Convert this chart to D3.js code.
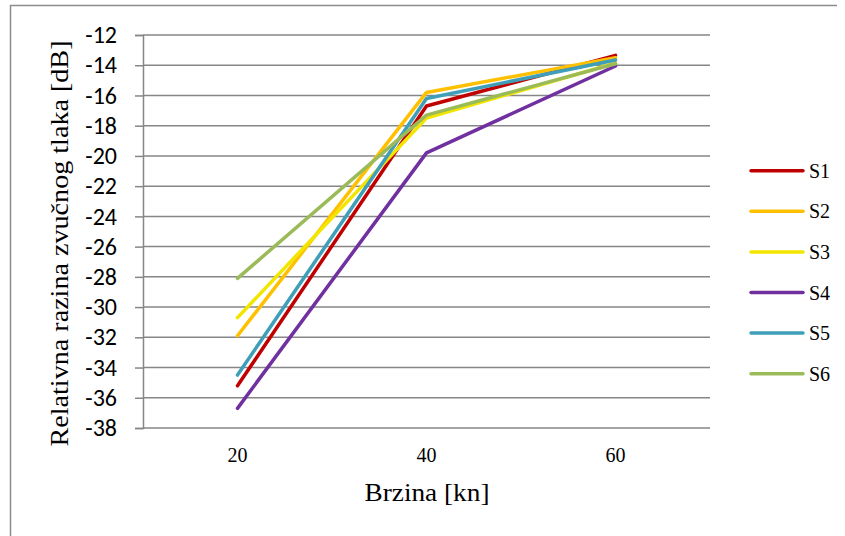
<!DOCTYPE html>
<html><head><meta charset="utf-8">
<script src="https://cdn.jsdelivr.net/npm/d3@7"></script>
<style>body{margin:0;background:#fff}svg{display:block}</style>
</head><body>
<svg id="c" width="845" height="536"></svg>
<script>
const categories = [20, 40, 60];
const seriesNames = ["S1", "S2", "S3", "S4", "S5", "S6"];
const seriesColors = ["#C00000", "#FFC000", "#F2E600", "#7030A0", "#3F9FB8", "#9BBB59"];
const S1 = [-35.2, -16.7, -13.35];
const S2 = [-31.9, -15.8, -13.5];
const S3 = [-30.7, -17.5, -13.85];
const S4 = [-36.7, -19.8, -14.05];
const S5 = [-34.5, -16.2, -13.65];
const S6 = [-28.1, -17.3, -13.9];
const seriesValues = [S1, S2, S3, S4, S5, S6];
const yTicks = [-12,-14,-16,-18,-20,-22,-24,-26,-28,-30,-32,-34,-36,-38];

const svg = d3.select("#c");
// outer frame (top and left visible)
svg.append("line").attr("x1",10).attr("x2",837).attr("y1",5.5).attr("y2",5.5).attr("stroke","#8c8c8c").attr("stroke-width",1.5);
svg.append("line").attr("x1",10.5).attr("x2",10.5).attr("y1",5).attr("y2",540).attr("stroke","#8c8c8c").attr("stroke-width",1.5);

const L = 143, R = 710, T = 35, B = 428;
const x = d3.scaleBand().domain(categories).range([L, R]);
const y = d3.scaleLinear().domain([-38, -12]).range([B, T]);

// gridlines
svg.append("g").selectAll("line").data(yTicks).join("line")
  .attr("x1", L).attr("x2", R).attr("y1", d => y(d)).attr("y2", d => y(d))
  .attr("stroke", "#868686").attr("stroke-width", 1.5);

// y axis
const ya = svg.append("g").attr("transform", `translate(${L},0)`)
  .call(d3.axisLeft(y).tickValues(yTicks).tickSize(8).tickPadding(18).tickFormat(d => d));
ya.select(".domain").attr("stroke", "#868686").attr("stroke-width", 1.5);
ya.selectAll(".tick line").attr("stroke", "#868686").attr("stroke-width", 1.5);
ya.selectAll(".tick text").attr("font-family", "Carlito, 'Liberation Sans', Arial, sans-serif")
  .attr("font-size", 24).attr("fill", "#000");

// x axis labels
const xa = svg.append("g").attr("transform", `translate(0,${B})`)
  .call(d3.axisBottom(x).tickSize(0).tickPadding(20));
xa.select(".domain").remove();
xa.selectAll(".tick text").attr("font-family", "'Liberation Serif', 'DejaVu Serif', serif")
  .attr("font-size", 20).attr("fill", "#000");

// lines
const line = d3.line().x((d, i) => x(categories[i]) + x.bandwidth() / 2).y(d => y(d));
svg.append("g").selectAll("path").data(seriesValues).join("path")
  .attr("d", line).attr("fill", "none")
  .attr("stroke", (d, i) => seriesColors[i]).attr("stroke-width", 3.5)
  .attr("stroke-linecap", "round").attr("stroke-linejoin", "round");

// axis titles
svg.append("text").attr("x", 427).attr("y", 501).attr("text-anchor", "middle")
  .attr("font-family", "'Liberation Serif', 'DejaVu Serif', serif").attr("font-size", 25)
  .attr("textLength", 125).attr("lengthAdjust", "spacingAndGlyphs")
  .text("Brzina [kn]");
svg.append("text").attr("transform", "translate(68,243.5) rotate(-90)").attr("text-anchor", "middle")
  .attr("font-family", "'Liberation Serif', 'DejaVu Serif', serif").attr("font-size", 25)
  .attr("textLength", 406).attr("lengthAdjust", "spacingAndGlyphs")
  .text("Relativna razina zvučnog tlaka [dB]");

// legend
const lg = svg.append("g").selectAll("g").data(seriesNames).join("g")
  .attr("transform", (d, i) => `translate(751,${170.7 + i * 40.6})`);
lg.append("line").attr("x1", 0).attr("x2", 52).attr("stroke", (d, i) => seriesColors[i])
  .attr("stroke-width", 3.5).attr("stroke-linecap", "round");
lg.append("text").attr("x", 58).attr("y", 7).attr("font-family", "'Liberation Serif', 'DejaVu Serif', serif")
  .attr("font-size", 20).text(d => d);
</script>
</body></html>
